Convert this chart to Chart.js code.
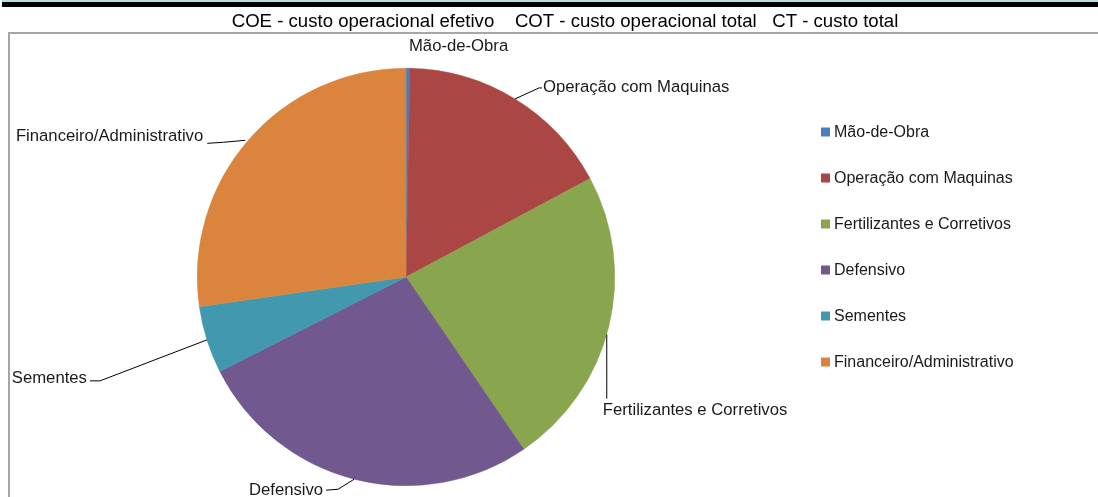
<!DOCTYPE html>
<html>
<head>
<meta charset="utf-8">
<script src="https://cdn.jsdelivr.net/npm/chart.js@4/dist/chart.umd.min.js"></script>
<style>
  html, body { margin: 0; padding: 0; background: #fff; }
  #wrap { position: relative; width: 1098px; height: 497px; }
</style>
</head>
<body>
<div id="wrap"><canvas id="c" width="1098" height="497"></canvas></div>
<script>
// ---- data ----
const categories = ['Mão-de-Obra', 'Operação com Maquinas', 'Fertilizantes e Corretivos', 'Defensivo', 'Sementes', 'Financeiro/Administrativo'];
const shares = [0.3, 16.9, 23.3, 27.1, 5.2, 27.3];
const sliceColors = ['#4A7EBB', '#AA4643', '#89A54E', '#71588F', '#4198AF', '#DB843D'];
const headerText = 'COE - custo operacional efetivo    COT - custo operacional total   CT - custo total';

// ---- label layout (offsets relative to the slice's outer mid point) ----
const labelLayout = [
  { line: [], text: [1, -22], align: 'left' },
  { line: [[0, 0], [24, -11], [27, -11]], text: [28, -12], align: 'left' },
  { line: [[-2, 8], [-2, 72]], text: [-6, 84], align: 'left' },
  { line: [[0, 0], [-16, 10], [-28, 11]], text: [-31, 11], align: 'right' },
  { line: [[0, 0], [-107, 41], [-117, 41]], text: [-120, 39], align: 'right' },
  { line: [[-3, 0], [-25, 2], [-41, 3]], text: [-45, -4], align: 'right' }
];
const LABEL_FONT = '16.7px "Liberation Sans", Arial, sans-serif';
const LEGEND_FONT = '16px "Liberation Sans", Arial, sans-serif';

const decorPlugin = {
  id: 'decor',
  beforeDraw(chart) {
    const ctx = chart.ctx;
    ctx.save();
    ctx.fillStyle = '#fff';
    ctx.fillRect(0, 0, chart.width, chart.height);
    // top strip
    ctx.fillStyle = '#B7DDE8';
    ctx.fillRect(2, 0, chart.width - 2, 2);
    ctx.fillStyle = '#000';
    ctx.fillRect(2, 2, chart.width - 2, 5);
    // header text
    ctx.fillStyle = '#000';
    ctx.font = '18.6px "Liberation Sans", Arial, sans-serif';
    ctx.textAlign = 'center';
    ctx.textBaseline = 'middle';
    ctx.fillText(headerText, 565, 21.5);
    // chart box border
    ctx.strokeStyle = '#A6A6A6';
    ctx.lineWidth = 2;
    ctx.beginPath();
    ctx.moveTo(chart.width + 2, 33);
    ctx.lineTo(9, 33);
    ctx.lineTo(9, chart.height + 2);
    ctx.stroke();
    ctx.restore();
  },
  afterDraw(chart) {
    const ctx = chart.ctx;
    const meta = chart.getDatasetMeta(0);
    ctx.save();
    ctx.font = LABEL_FONT;
    ctx.textBaseline = 'middle';
    meta.data.forEach((arc, i) => {
      const p = arc.getProps(['x', 'y', 'startAngle', 'endAngle', 'outerRadius'], true);
      const mid = (p.startAngle + p.endAngle) / 2;
      const ax = p.x + Math.cos(mid) * p.outerRadius;
      const ay = p.y + Math.sin(mid) * p.outerRadius;
      const lay = labelLayout[i];
      if (lay.line.length) {
        ctx.strokeStyle = '#000';
        ctx.lineWidth = 1;
        ctx.beginPath();
        lay.line.forEach((pt, k) => {
          const px = ax + pt[0], py = ay + pt[1];
          if (k === 0) ctx.moveTo(px, py); else ctx.lineTo(px, py);
        });
        ctx.stroke();
      }
      ctx.fillStyle = '#1a1a1a';
      ctx.textAlign = lay.align;
      ctx.fillText(chart.data.labels[i], ax + lay.text[0], ay + lay.text[1]);
    });
    // legend
    ctx.font = LEGEND_FONT;
    ctx.textAlign = 'left';
    chart.data.labels.forEach((lab, i) => {
      const y = 132.5 + i * 46;
      ctx.fillStyle = chart.data.datasets[0].backgroundColor[i];
      ctx.fillRect(821, y - 5, 9, 9);
      ctx.fillStyle = '#1a1a1a';
      ctx.fillText(lab, 834, y);
    });
    ctx.restore();
  }
};

new Chart(document.getElementById('c'), {
  type: 'pie',
  data: {
    labels: categories,
    datasets: [{
      data: shares,
      backgroundColor: sliceColors,
      borderColor: sliceColors,
      borderWidth: 0.5
    }]
  },
  options: {
    responsive: false,
    animation: false,
    rotation: 0,
    layout: { padding: { left: 197, right: 483, top: 68, bottom: 11 } },
    plugins: {
      legend: { display: false },
      tooltip: { enabled: false },
      title: { display: false }
    }
  },
  plugins: [decorPlugin]
});
</script>
</body>
</html>
